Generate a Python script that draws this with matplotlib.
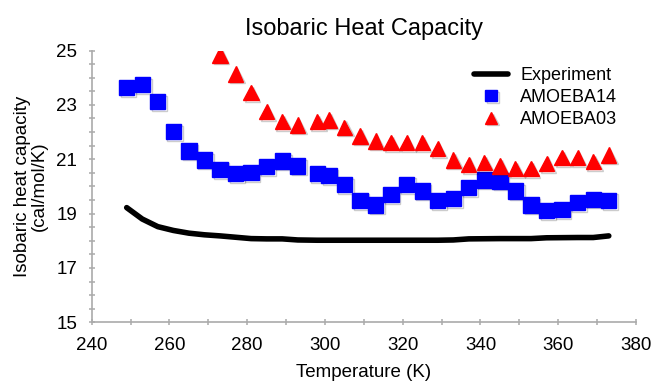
import matplotlib
matplotlib.use("Agg")
import matplotlib.pyplot as plt
import matplotlib.patheffects as pe
from matplotlib.ticker import MultipleLocator

plt.rcParams['font.family'] = ['Liberation Sans', 'DejaVu Sans']

# experiment (smooth curve)
exp_t = [249, 253, 257, 261, 265, 269, 273, 277, 281, 285, 289, 293, 298,
         305, 313, 321, 329, 333, 337, 345, 353, 357, 365, 369, 373]
exp_cp = [19.22, 18.80, 18.52, 18.38, 18.28, 18.22, 18.18, 18.13, 18.08,
          18.07, 18.07, 18.03, 18.02, 18.02, 18.02, 18.02, 18.02, 18.03,
          18.07, 18.08, 18.08, 18.11, 18.12, 18.12, 18.18]

# AMOEBA14
a14_t = [249, 253, 257, 261, 265, 269, 273, 277, 281, 285, 289, 293, 298,
         301, 305, 309, 313, 317, 321, 325, 329, 333, 337, 341, 345, 349,
         353, 357, 361, 365, 369, 373]
a14_cp = [23.65, 23.75, 23.12, 22.01, 21.30, 20.97, 20.63, 20.47, 20.51,
          20.73, 20.94, 20.75, 20.47, 20.39, 20.06, 19.49, 19.32, 19.71,
          20.08, 19.83, 19.49, 19.55, 19.96, 20.24, 20.20, 19.83, 19.32,
          19.12, 19.16, 19.41, 19.53, 19.49]

# AMOEBA03
a03_t = [273, 277, 281, 285, 289, 293, 298, 301, 305, 309, 313, 317, 321,
         325, 329, 333, 337, 341, 345, 349, 353, 357, 361, 365, 369, 373]
a03_cp = [24.83, 24.14, 23.45, 22.75, 22.38, 22.26, 22.38, 22.44, 22.18,
          21.85, 21.67, 21.61, 21.61, 21.61, 21.39, 20.97, 20.81, 20.88,
          20.75, 20.66, 20.66, 20.85, 21.06, 21.06, 20.91, 21.16]

y_ticks = [15, 17, 19, 21, 23, 25]

fig = plt.figure(figsize=(6.55, 3.85), dpi=100)
ax = fig.add_axes([0.140, 0.1628, 0.831, 0.706])

# faint drop shadow under the markers, like the original
shadow = [pe.SimpleLineShadow(offset=(1.2, -1.2), alpha=0.2, shadow_color='k'),
          pe.Normal()]

ax.plot(exp_t, exp_cp, color='black', lw=4, solid_capstyle='round',
        label='Experiment')
ax.plot(a14_t, a14_cp, ls='none', marker='s', ms=11, color='#0000ff',
        mec='#0000ff', label='AMOEBA14', path_effects=shadow)
ax.plot(a03_t, a03_cp, ls='none', marker='^', ms=11, color='#ff0000',
        mec='#ff0000', label='AMOEBA03', path_effects=shadow)

ax.set_xlim(240, 380)
ax.set_ylim(15, 25)
ax.xaxis.set_major_locator(MultipleLocator(20))
ax.xaxis.set_minor_locator(MultipleLocator(10))
ax.set_yticks(y_ticks)
ax.yaxis.set_minor_locator(MultipleLocator(0.5))

for s in ['top', 'right']:
    ax.spines[s].set_visible(False)
for s in ['left', 'bottom']:
    ax.spines[s].set_color('#aaaaaa')
    ax.spines[s].set_linewidth(1.2)

ax.tick_params(which='both', direction='inout', length=5, width=1.1,
               color='#aaaaaa', labelsize=13.5, pad=8)

ax.set_title('Isobaric Heat Capacity', fontsize=17, pad=11)
ax.set_xlabel('Temperature (K)', fontsize=13.5)
ax.xaxis.set_label_coords(0.5, -0.155)
ax.set_ylabel('Isobaric heat capacity\n(cal/mol/K)', fontsize=13.5,
              linespacing=1.05)
ax.yaxis.set_label_coords(-0.080, 0.5)

ax.legend(loc='upper left', bbox_to_anchor=(465 / 655, 1 - 58 / 385),
          bbox_transform=fig.transFigure, frameon=False, fontsize=13,
          borderpad=0, handlelength=1.9, handletextpad=0.65,
          labelspacing=0.28, markerscale=0.75)

fig.savefig('out.png', dpi=100)
